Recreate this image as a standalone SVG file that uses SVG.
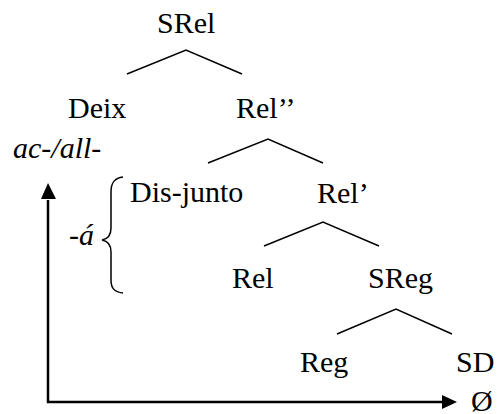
<svg xmlns="http://www.w3.org/2000/svg" width="497" height="414" viewBox="0 0 497 414">
<rect width="497" height="414" fill="#fff"/>
<g id="connectors" fill="none" stroke="#000" stroke-width="1.5">
<polyline points="127,74 186,50 242,74"/>
<polyline points="208,163 268,139 323,163"/>
<polyline points="264,246 323,222 379,246"/>
<polyline points="337,334 396,309 452,334"/>
</g>
<g id="n-srel"><text font-family="Times New Roman, Liberation Serif, serif" font-size="30" x="157" y="33">SRel</text></g>
<g id="n-deix"><text font-family="Times New Roman, Liberation Serif, serif" font-size="30" x="68" y="118">Deix</text></g>
<g id="n-rel2"><text font-family="Times New Roman, Liberation Serif, serif" font-size="30" x="236" y="118">Rel&#8217;&#8217;</text></g>
<g id="n-acall"><text font-family="Times New Roman, Liberation Serif, serif" font-size="30" font-style="italic" x="13" y="158">ac-/all-</text></g>
<g id="n-disjunto"><text font-family="Times New Roman, Liberation Serif, serif" font-size="30" x="130" y="202">Dis-junto</text></g>
<g id="n-rel1"><text font-family="Times New Roman, Liberation Serif, serif" font-size="30" x="317" y="203">Rel&#8217;</text></g>
<g id="n-rel"><text font-family="Times New Roman, Liberation Serif, serif" font-size="30" x="232" y="288">Rel</text></g>
<g id="n-sreg"><text font-family="Times New Roman, Liberation Serif, serif" font-size="30" x="368" y="288">SReg</text></g>
<g id="n-reg"><text font-family="Times New Roman, Liberation Serif, serif" font-size="30" x="300" y="372">Reg</text></g>
<g id="n-sd"><text font-family="Times New Roman, Liberation Serif, serif" font-size="30" x="456" y="372">SD</text></g>
<g id="n-empty"><text font-family="Times New Roman, Liberation Serif, serif" font-size="30" x="471" y="411">&#216;</text></g>
<g id="n-a"><text font-family="Times New Roman, Liberation Serif, serif" font-size="30" font-style="italic" x="69" y="245">-&#225;</text></g>
<g id="brace"><path fill="none" stroke="#000" stroke-width="1.5" d="M123,177 C114,178 111,183 111,192 L111,228 C111,235 108,239 102,240 C108,241 111,245 111,252 L111,280 C111,288 114,292 123,293"/></g>
<g id="axes">
<polyline fill="none" stroke="#000" stroke-width="2.5" points="48,200 48,402 443,402"/>
<path d="M41,199 L48,183 L56,199 Z" fill="#000"/>
<path d="M442,395 L457,402 L442,409 Z" fill="#000"/>
</g>
</svg>
